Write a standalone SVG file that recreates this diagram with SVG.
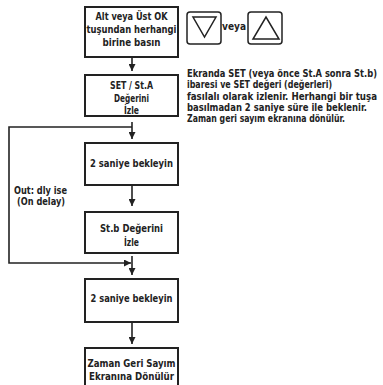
<svg xmlns="http://www.w3.org/2000/svg" width="383" height="385" viewBox="0 0 383 385">
<defs>
<style>
.box{fill:#fff;stroke:#222;stroke-width:2}
.t{font-family:'DejaVu Sans Condensed','DejaVu Sans','Liberation Sans',sans-serif;font-stretch:condensed;font-weight:bold;font-size:10.5px;fill:#222;text-anchor:middle}
.p{font-family:'DejaVu Sans Condensed','DejaVu Sans','Liberation Sans',sans-serif;font-stretch:condensed;font-weight:bold;font-size:10px;fill:#222}
.c{fill:none;stroke:#222;stroke-width:1.6}
.btn{fill:#fff;stroke:#222;stroke-width:1.5}
</style>
<marker id="ah" viewBox="0 0 10 10" refX="10" refY="5" markerWidth="7" markerHeight="7" markerUnits="userSpaceOnUse" orient="auto">
<path d="M0,0 L10,5 L0,10 Z" fill="#222"/>
</marker>
</defs>
<rect width="383" height="385" fill="#fff"/>
<g id="connectors">
<line class="c" x1="132" y1="58" x2="132" y2="71" marker-end="url(#ah)"/>
<line class="c" x1="132" y1="122" x2="132" y2="139" marker-end="url(#ah)"/>
<line class="c" x1="132" y1="186" x2="132" y2="206" marker-end="url(#ah)"/>
<line class="c" x1="132" y1="256" x2="132" y2="275" marker-end="url(#ah)"/>
<line class="c" x1="132" y1="323" x2="132" y2="344" marker-end="url(#ah)"/>
<polyline class="c" points="132,127 9,127 9,263 131,263" marker-end="url(#ah)"/>
</g>
<g id="n1">
<rect class="box" x="85" y="7" width="93" height="50"/>
<text class="t" x="131.5" y="20" textLength="72" lengthAdjust="spacingAndGlyphs">Alt veya Üst OK</text>
<text class="t" x="131.5" y="33" textLength="90" lengthAdjust="spacingAndGlyphs">tuşundan herhangi</text>
<text class="t" x="131.5" y="46" textLength="58" lengthAdjust="spacingAndGlyphs">birine basın</text>
</g>
<g id="buttons">
<rect class="btn" x="187" y="12" width="34" height="32" rx="3"/>
<polygon class="btn" points="193,17 216,17 204.5,37"/>
<text class="p" x="222" y="29.5" textLength="24" lengthAdjust="spacingAndGlyphs">veya</text>
<rect class="btn" x="248" y="12" width="34" height="32" rx="3"/>
<polygon class="btn" points="253,39 279,39 266,17"/>
</g>
<g id="note">
<text class="p" x="377" y="77" text-anchor="end" textLength="190" lengthAdjust="spacingAndGlyphs">Ekranda SET (veya önce St.A sonra St.b)</text>
<text class="p" x="187" y="88" textLength="145" lengthAdjust="spacingAndGlyphs">ibaresi ve SET değeri (değerleri)</text>
<text class="p" x="377" y="99.5" text-anchor="end" textLength="190" lengthAdjust="spacingAndGlyphs">fasılalı olarak izlenir. Herhangi bir tuşa</text>
<text class="p" x="187" y="110.5" textLength="180" lengthAdjust="spacingAndGlyphs">basılmadan 2 saniye süre ile beklenir.</text>
<text class="p" x="187" y="122" textLength="158" lengthAdjust="spacingAndGlyphs">Zaman geri sayım ekranına dönülür.</text>
</g>
<g id="n2">
<rect class="box" x="85" y="75" width="93" height="41"/>
<text class="t" x="131.5" y="89" textLength="43" lengthAdjust="spacingAndGlyphs">SET / St.A</text>
<text class="t" x="131.5" y="102" textLength="35" lengthAdjust="spacingAndGlyphs">Değerini</text>
<text class="t" x="131.5" y="114" textLength="15" lengthAdjust="spacingAndGlyphs">İzle</text>
</g>
<g id="n3">
<rect class="box" x="85" y="143" width="93" height="42"/>
<text class="t" x="131.5" y="167" textLength="83" lengthAdjust="spacingAndGlyphs">2 saniye bekleyin</text>
</g>
<g id="loop-label">
<text class="t" x="40.5" y="193.5" textLength="53" lengthAdjust="spacingAndGlyphs">Out: dly ise</text>
<text class="t" x="41" y="205" textLength="48" lengthAdjust="spacingAndGlyphs">(On delay)</text>
</g>
<g id="n4">
<rect class="box" x="85" y="212" width="93" height="41"/>
<text class="t" x="131.5" y="232" textLength="63" lengthAdjust="spacingAndGlyphs">St.b Değerini</text>
<text class="t" x="131.5" y="246" textLength="15" lengthAdjust="spacingAndGlyphs">İzle</text>
</g>
<g id="n5">
<rect class="box" x="85" y="279" width="93" height="43"/>
<text class="t" x="131.5" y="302" textLength="82" lengthAdjust="spacingAndGlyphs">2 saniye bekleyin</text>
</g>
<g id="n6">
<rect class="box" x="85" y="348" width="93" height="45"/>
<text class="t" x="131.5" y="367" textLength="88" lengthAdjust="spacingAndGlyphs">Zaman Geri Sayım</text>
<text class="t" x="131.5" y="380" textLength="85" lengthAdjust="spacingAndGlyphs">Ekranına Dönülür</text>
</g>
</svg>
